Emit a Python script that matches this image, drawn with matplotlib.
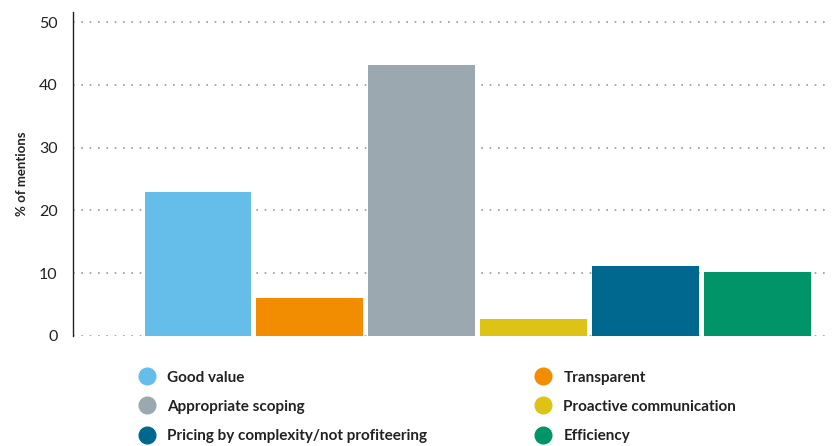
import matplotlib.pyplot as plt
from matplotlib.lines import Line2D

plt.rcParams['font.family'] = ['Lato', 'DejaVu Sans']

categories = ['Good value', 'Transparent', 'Appropriate scoping',
              'Proactive communication', 'Pricing by complexity/not profiteering',
              'Efficiency']
values = [23, 6, 43.2, 2.7, 11.2, 10.2]
colors = ['#65BDEA', '#F28C00', '#9CA8B0', '#DDC316', '#00678F', '#009468']
yticks = [0, 10, 20, 30, 40, 50]

fig = plt.figure(figsize=(8.34, 4.46), dpi=100)
ax = fig.add_axes([0.0875, 0.247, 0.908, 0.726])

x = list(range(len(categories)))
ax.bar(x, values, width=0.955, color=colors, zorder=2)

ax.set_xlim(-1.117, 5.65)
ax.set_ylim(0, 51.6)
ax.set_yticks(yticks)
ax.set_yticklabels([str(t) for t in yticks], fontsize=11.5, color='#222222')
ax.tick_params(axis='y', length=0, pad=11)
ax.set_xticks([])
ax.yaxis.grid(True, linestyle=(0, (1, 4)), color='#999999', linewidth=1.2, zorder=1)
ax.set_axisbelow(True)

for s in ['top', 'right', 'bottom']:
    ax.spines[s].set_visible(False)
ax.spines['left'].set_color('#222222')
ax.spines['left'].set_linewidth(1.0)

ax.set_ylabel('% of mentions', fontsize=9.5, fontweight='bold', color='#222222')
ax.yaxis.set_label_coords(-0.06, 0.5)

# legend, column-major order
order = [0, 2, 4, 1, 3, 5]
handles = [Line2D([], [], marker='o', linestyle='', markersize=12,
                  markerfacecolor=colors[i], markeredgecolor=colors[i]) for i in order]
labels = [categories[i] for i in order]
fig.legend(handles, labels, ncol=2, loc='upper left', bbox_to_anchor=(0.142, 0.2),
           frameon=False, prop={'size': 11, 'weight': 'bold'},
           handletextpad=0.3, columnspacing=6.6, labelspacing=1.0,
           labelcolor='#222222')

fig.savefig('out.png', dpi=100)
